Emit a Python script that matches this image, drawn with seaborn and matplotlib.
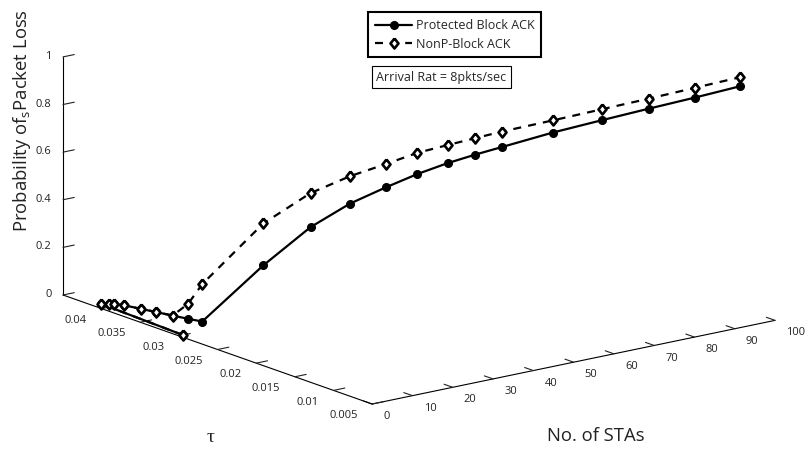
import numpy as np
import matplotlib
matplotlib.use("Agg")
import matplotlib.pyplot as plt
import seaborn as sns
from mpl_toolkits.mplot3d import proj3d

# Number of stations, attempt probability tau and loss probability per scheme
n_stas = [1, 2, 3, 4, 5, 6, 7, 8, 9, 10, 15, 20, 25, 30, 35, 40, 45, 50, 60, 70, 80, 90, 100]
tau = [0.0300, 0.0411, 0.0406, 0.0405, 0.0397, 0.0381, 0.0366, 0.0350, 0.0335, 0.0322,
       0.0269, 0.0234, 0.0209, 0.0189, 0.0174, 0.0161, 0.0151, 0.0143, 0.0129, 0.0118,
       0.0109, 0.0102, 0.0096]
p_loss_protected = [0, 0, 0, 0, 0, 0, 0, 0, 0, 0,
                    0.279, 0.462, 0.572, 0.645, 0.701, 0.744, 0.774, 0.797, 0.839, 0.868,
                    0.892, 0.911, 0.930]
p_loss_nonp = [0, 0, 0, 0, 0, 0, 0, 0, 0.063, 0.157,
               0.455, 0.605, 0.687, 0.743, 0.790, 0.820, 0.843, 0.862, 0.890, 0.914,
               0.934, 0.952, 0.968]

series_labels = ["Protected Block ACK", "NonP-Block ACK"]
note_text = "Arrival Rat = 8pkts/sec"

sta_ticks = [0, 10, 20, 30, 40, 50, 60, 70, 80, 90, 100]
tau_ticks = [0.005, 0.01, 0.015, 0.02, 0.025, 0.03, 0.035, 0.04]
tau_tick_labels = ["0.005", "0.01", "0.015", "0.02", "0.025", "0.03", "0.035", "0.04"]
p_ticks = [0, 0.2, 0.4, 0.6, 0.8, 1.0]
p_tick_labels = ["0", "0.2", "0.4", "0.6", "0.8", "1"]

sns.set_theme(style="white")
plt.rcParams["font.family"] = ["Open Sans", "DejaVu Sans"]
plt.rcParams["mathtext.fontset"] = "custom"
plt.rcParams["mathtext.rm"] = "Open Sans"

W, H = 808, 450
fig = plt.figure(figsize=(W / 100, H / 100), dpi=100)
fig.patch.set_facecolor("white")
ax = fig.add_axes([0, 0, 1, 1], projection="3d", proj_type="ortho")
ax.patch.set_alpha(0)
ax.view_init(elev=15.7, azim=-127.5)
ax.set_box_aspect((1, 1, 0.487))

# Slightly tall diamond outline for the NonP series
diamond = [(0, 1), (0.8, 0), (0, -1), (-0.8, 0), (0, 1)]

line_kw = dict(color="black", lw=1.6, clip_on=False)
ax.plot(n_stas, tau, p_loss_protected, marker="o", ms=5.5, label=series_labels[0], **line_kw)
ax.plot(n_stas, tau, p_loss_nonp, ls=(0, (3.6, 3.2)), marker=diamond, ms=7.2,
        mfc="white", mec="black", mew=1.9, label=series_labels[1], **line_kw)

ax.set_xlim(0, 100)
ax.set_ylim(0.005, 0.045)
ax.set_zlim(0, 1)
ax.set_xticks(sta_ticks)
ax.set_xticklabels([str(t) for t in sta_ticks])
ax.set_yticks(tau_ticks)
ax.set_yticklabels(tau_tick_labels)
ax.set_zticks(p_ticks)
ax.set_zticklabels(p_tick_labels)
ax.grid(False)
for axis in (ax.xaxis, ax.yaxis, ax.zaxis):
    axis.set_pane_color((1, 1, 1, 0))
    axis.pane.set_edgecolor((1, 1, 1, 0))
    axis.line.set_color("black")
    axis.line.set_linewidth(0.8)
    axis._axinfo["tick"]["inward_factor"] = 0.0
    axis._axinfo["tick"]["outward_factor"] = 0.35
    axis._axinfo["tick"]["linewidth"] = {True: 0.8, False: 0.8}
    axis._axinfo["tick"]["color"] = "black"
ax.tick_params(labelsize=8, colors="#222222")
ax.xaxis.set_tick_params(pad=2)
ax.yaxis.set_tick_params(pad=2)
ax.zaxis.set_tick_params(pad=-3.5)


def corner_px(x, y, z):
    xs, ys, _ = proj3d.proj_transform(x, y, z, ax.get_proj())
    return np.array(ax.transData.transform((xs, ys)))


def set_square(cx, cy, size):
    ax.set_position([(cx - size / 2) / W, (cy - size / 2) / H, size / W, size / H])


# Place the 3D box so its floor corners sit where the layout wants them
origin_target = np.array([63.0, H - 295.0])
far_target = np.array([775.0, H - 322.0])
cx, cy, size = W / 2, H / 2, 600.0
for _ in range(4):
    set_square(cx, cy, size)
    fig.canvas.draw()
    o = corner_px(0, 0.045, 0)
    f = corner_px(100, 0.005, 0)
    s = np.linalg.norm(far_target - origin_target) / np.linalg.norm(f - o)
    c = np.array([cx, cy])
    o_new = c + (o - c) * s
    size *= s
    cx, cy = c + (origin_target - o_new)
set_square(cx, cy, size)

# Tick label anchoring: N labels hang to the right, tau and P labels to the left
for lbl in ax.xaxis.get_ticklabels():
    lbl.set_horizontalalignment("left")
    lbl.set_verticalalignment("center")
for lbl in list(ax.yaxis.get_ticklabels()) + list(ax.zaxis.get_ticklabels()):
    lbl.set_horizontalalignment("right")
    lbl.set_verticalalignment("center")

leg = ax.legend(loc="upper left", bbox_to_anchor=(368 / W, 1 - 12 / H),
                bbox_transform=fig.transFigure, borderaxespad=0, fontsize=9,
                frameon=True, fancybox=False, framealpha=1, edgecolor="black",
                handlelength=3.0, handletextpad=0.25, borderpad=0.55, labelspacing=0.45)
leg.get_frame().set_linewidth(1.5)

fig.text(441.5 / W, 1 - 77 / H, note_text, ha="center", va="center", fontsize=9,
         bbox=dict(boxstyle="square,pad=0.35", fc="white", ec="black", lw=0.8))

fig.text(22 / W, 1 - 121 / H, "Probability of$_\\mathrm{s}$Packet Loss", rotation=90,
         ha="center", va="center", fontsize=13.3, color="#222222")
fig.text(596 / W, 1 - 436 / H, "No. of STAs", ha="center", va="center",
         fontsize=13.3, color="#222222")
fig.text(211 / W, 1 - 437 / H, "τ", ha="center", va="center", fontsize=14,
         family=["Liberation Serif", "DejaVu Serif"], color="#222222")

fig.savefig("out.png", dpi=100, facecolor="white")
